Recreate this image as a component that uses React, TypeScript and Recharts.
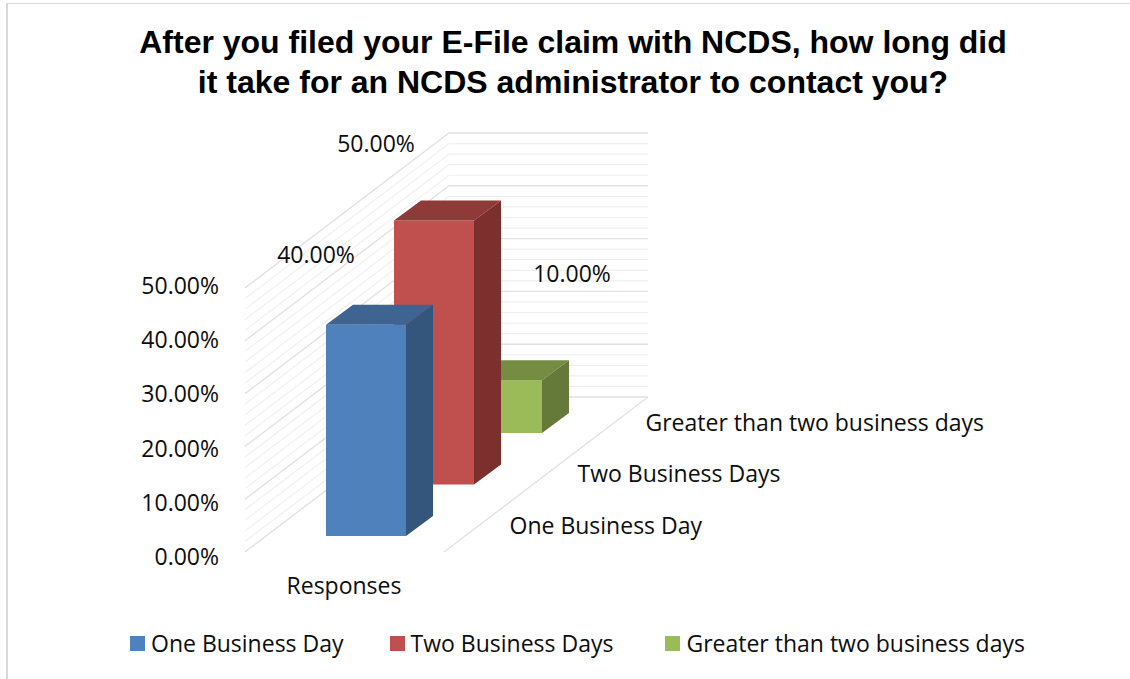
import React from "react";
import {
  BarChart,
  Bar,
  XAxis,
  YAxis,
  CartesianGrid,
  Legend,
  LabelList,
} from "recharts";

const CATEGORIES = ["Responses"];
const SERIES_NAMES = ["One Business Day", "Two Business Days", "Greater than two business days"];
const SERIES_VALUES = [40, 50, 10];
const AXIS_TICKS = [0, 10, 20, 30, 40, 50];
const GRID_VALUES = [
  0, 2, 4, 6, 8, 10, 12, 14, 16, 18, 20, 22, 24, 26, 28, 30, 32, 34, 36, 38, 40, 42, 44, 46, 48, 50,
];

const FRONT = ["#4f81bd", "#c0504d", "#9bbb59"];
const TOP = ["#3f6491", "#8d3a38", "#758d43"];
const SIDE = ["#34557c", "#7c302e", "#657a38"];

// how the value labels sit relative to the bar's top left corner (placed by hand in the original)
const LABEL_SHIFT = [
  { dx: -10, dy: -71 },
  { dx: -18, dy: -78 },
  { dx: 110, dy: -107 },
];
const LEGEND_GAPS = [0, 46, 52];

const FONT = "'Open Sans', sans-serif";
const FONT_SIZE = 23;

// fake 3D: each series steps back along the floor
const STEP_X = 68;
const STEP_Y = 51.5;
const FLOOR_LIFT = 16;
const BAR_DX = 27;
const BAR_DY = 20;
const WALL_DX = 204;
const WALL_DY = 155;
const BACK_WIDTH = 199;
const FLOOR_GAP = 199;

const data = CATEGORIES.map((name) => {
  const row: Record<string, string | number> = { name };
  SERIES_NAMES.forEach((s, i) => {
    row[s] = SERIES_VALUES[i];
  });
  return row;
});

const pct = (v: number) => `${v.toFixed(2)}%`;

function WallLine(props: any) {
  const { x1, y1, index } = props;
  const major = GRID_VALUES[index] % 10 === 0;
  const stroke = major ? "#e2e2e2" : "#f0f0f0";
  const backX = x1 + WALL_DX;
  const backY = y1 - WALL_DY;
  return (
    <g fill="none" stroke={stroke} strokeWidth={major ? 1.4 : 1.2}>
      <polyline points={`${x1},${y1} ${backX},${backY} ${backX + BACK_WIDTH},${backY}`} />
      {index === 0 && (
        <line x1={x1 + FLOOR_GAP} y1={y1} x2={backX + BACK_WIDTH} y2={backY} />
      )}
    </g>
  );
}

function Bar3D(props: any) {
  const { x, y, width, height, series } = props;
  const left = x + (series - 1) * STEP_X;
  const lift = FLOOR_LIFT + series * STEP_Y;
  const top = y - lift;
  const bottom = y + height - lift;
  const right = left + width;
  return (
    <g>
      <rect x={left} y={top} width={width} height={height} fill={FRONT[series]} />
      <polygon
        points={`${left},${top} ${left + BAR_DX},${top - BAR_DY} ${right + BAR_DX},${top - BAR_DY} ${right},${top}`}
        fill={TOP[series]}
      />
      <polygon
        points={`${right},${top} ${right + BAR_DX},${top - BAR_DY} ${right + BAR_DX},${bottom - BAR_DY} ${right},${bottom}`}
        fill={SIDE[series]}
      />
      <text
        x={left + 183.5}
        y={bottom - 11.5}
        fontFamily={FONT}
        fontSize={FONT_SIZE}
        fill="#0d0d0d"
        dominantBaseline="central"
      >
        {SERIES_NAMES[series]}
      </text>
    </g>
  );
}

function ValueLabel(props: any) {
  const { x, y, value, series } = props;
  const left = x + (series - 1) * STEP_X;
  const top = y - FLOOR_LIFT - series * STEP_Y;
  return (
    <text
      x={left + LABEL_SHIFT[series].dx}
      y={top + LABEL_SHIFT[series].dy}
      textAnchor="middle"
      dominantBaseline="central"
      fontFamily={FONT}
      fontSize={FONT_SIZE}
      fill="#0d0d0d"
    >
      {pct(value)}
    </text>
  );
}

function YTick(props: any) {
  const { x, y, payload } = props;
  // the axis labels run slightly wider apart than the wall lines
  const drift = 4 - payload.value * 0.14;
  return (
    <text
      x={x - 18}
      y={y + drift}
      textAnchor="end"
      dominantBaseline="central"
      fontFamily={FONT}
      fontSize={FONT_SIZE}
      fill="#0d0d0d"
    >
      {pct(payload.value)}
    </text>
  );
}

function XTick(props: any) {
  const { x, payload } = props;
  return (
    <text
      x={x - 90}
      y={585}
      textAnchor="middle"
      dominantBaseline="central"
      fontFamily={FONT}
      fontSize={FONT_SIZE}
      fill="#0d0d0d"
    >
      {payload.value}
    </text>
  );
}

function LegendRow() {
  return (
    <div
      style={{
        height: 38,
        width: 1130,
        display: "flex",
        alignItems: "center",
        paddingLeft: 130,
        boxSizing: "border-box",
        whiteSpace: "nowrap",
        fontFamily: FONT,
        fontSize: FONT_SIZE,
        color: "#0d0d0d",
      }}
    >
      {SERIES_NAMES.map((name, i) => (
        <div key={name} style={{ display: "flex", alignItems: "center", gap: 6, marginLeft: LEGEND_GAPS[i] }}>
          <span style={{ width: 15, height: 15, background: FRONT[i], display: "inline-block" }} />
          <span>{name}</span>
        </div>
      ))}
    </div>
  );
}

export default function App() {
  return (
    <div style={{ position: "absolute", left: 0, top: 0, width: 1130, height: 679, background: "#fff", overflow: "hidden" }}>
      <div
        style={{
          position: "absolute",
          left: 6,
          top: 3,
          right: 0,
          bottom: 0,
          borderLeft: "2px solid #d9d9d9",
          borderTop: "1.5px solid #d9d9d9",
        }}
      />
      <div
        style={{
          position: "absolute",
          left: 0,
          top: 23,
          width: 1146,
          textAlign: "center",
          fontFamily: "'Liberation Sans', Arial, sans-serif",
          fontWeight: 700,
          fontSize: 32,
          lineHeight: "39.5px",
          color: "#000",
        }}
      >
        After you filed your E-File claim with NCDS, how long did
        <br />
        it take for an NCDS administrator to contact you?
      </div>
      <BarChart
        width={1130}
        height={679}
        data={data}
        barSize={80}
        barGap={-80}
        margin={{ top: 288, right: 507, bottom: 17, left: 0 }}
        style={{ position: "absolute", left: 0, top: 0 }}
      >
        <CartesianGrid
          vertical={false}
          horizontal={(p: any) => <WallLine key={p.index} {...p} />}
          horizontalValues={GRID_VALUES}
        />
        <XAxis dataKey="name" height={72} axisLine={false} tickLine={false} tick={XTick} />
        <YAxis
          width={245}
          domain={[0, 50]}
          ticks={AXIS_TICKS}
          interval={0}
          axisLine={false}
          tickLine={false}
          tick={YTick}
        />
        <Legend
          verticalAlign="bottom"
          width={1130}
          wrapperStyle={{ left: 0, width: 1130 }}
          content={() => <LegendRow />}
        />
        {[2, 1, 0].map((i) => (
          <Bar
            key={SERIES_NAMES[i]}
            dataKey={SERIES_NAMES[i]}
            isAnimationActive={false}
            shape={(p: any) => <Bar3D {...p} series={i} />}
          >
            <LabelList content={(p: any) => <ValueLabel {...p} series={i} />} />
          </Bar>
        ))}
      </BarChart>
    </div>
  );
}
